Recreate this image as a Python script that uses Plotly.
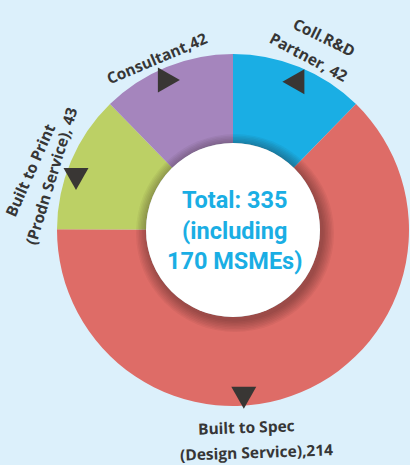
import math
import plotly.graph_objects as go

categories = ["Coll.R&D Partner", "Built to Spec (Design Service)", "Built to Print (Prodn Service)", "Consultant"]
values = [42, 214, 43, 42]
colors = ["#1aaee4", "#de6c67", "#bcd065", "#a585bd"]
center_lines = ["Total: 335", "(including", "170 MSMEs)"]

W, H = 410, 465
cx, cy, R, r_hole = 233, 230, 176, 87

fig = go.Figure()
fig.add_trace(go.Pie(
    labels=categories, values=values, sort=False, direction="clockwise", rotation=0,
    marker=dict(colors=colors, line=dict(width=0)), hole=r_hole / R,
    textinfo="none", hoverinfo="label+value", showlegend=False,
    domain=dict(x=[(cx - R) / W, (cx + R) / W], y=[1 - (cy + R) / H, 1 - (cy - R) / H]),
))
fig.add_trace(go.Scatter(x=[0], y=[0], mode="markers", marker=dict(opacity=0),
                         hoverinfo="skip", showlegend=False))

shapes = []
# soft shadow around the hole
for k in range(8, 0, -1):
    rr = r_hole + k * 1.5
    shapes.append(dict(type="circle", xref="x", yref="y", layer="above",
                       x0=cx + 2 - rr, x1=cx + 2 + rr, y0=cy + 3 - rr, y1=cy + 3 + rr,
                       fillcolor="rgba(40,20,20,0.05)", line=dict(width=0)))
shapes.append(dict(type="circle", xref="x", yref="y", layer="above",
                   x0=cx - r_hole, x1=cx + r_hole, y0=cy - r_hole, y1=cy + r_hole,
                   fillcolor="white", line=dict(width=0)))

# arrow markers placed from slice angles
total = sum(values)
cum = 0
arrow_style = {0: ("left", 0, 160), 1: ("down", 19, 168),
               2: ("down", -5, 165), 3: ("right", -1, 163)}
hw, hl = 12.5, 11  # half-width, half-length of triangle
for i, v in enumerate(values):
    mid = (cum + v / 2) / total * 360
    cum += v
    d, off, rr = arrow_style[i]
    th = math.radians(mid + off)
    x = cx + rr * math.sin(th)
    y = cy - rr * math.cos(th)
    if d == "left":
        pts = [(x - hl, y), (x + hl, y - hw), (x + hl, y + hw)]
    elif d == "right":
        pts = [(x + hl, y), (x - hl, y - hw), (x - hl, y + hw)]
    else:
        pts = [(x, y + hl), (x - hw, y - hl), (x + hw, y - hl)]
    path = "M " + " L ".join(f"{px:.1f},{py:.1f}" for px, py in pts) + " Z"
    shapes.append(dict(type="path", path=path, xref="x", yref="y", layer="above",
                       fillcolor="#393634", line=dict(width=0)))

font_lab = dict(family="Open Sans", size=15.5, color="#363636", weight="bold")
labels = [
    ("Coll.R&D", 324, 37, 26),
    ("Partner, 42", 309, 57, 28),
    ("Consultant,42", 157, 58, -23),
    ("Built to Print", 30, 170, -66),
    ("(Prodn Service), 43", 51, 176, -73),
    ("Built to Spec", 246, 427, -2),
    ("(Design Service),214", 256, 452, -2),
]
ann = []
for t, x, y, a in labels:
    ann.append(dict(text=t, x=x, y=y, xref="x", yref="y", showarrow=False, textangle=a,
                    font=font_lab, xanchor="center", yanchor="middle"))
ann.append(dict(text="<br>".join(center_lines), x=cx + 1, y=cy, xref="x", yref="y",
                showarrow=False, font=dict(family="Roboto", size=23.5, color="#1aaee4", weight="bold"),
                align="center", xanchor="center", yanchor="middle"))

fig.update_layout(
    width=W, height=H, margin=dict(l=0, r=0, t=0, b=0),
    paper_bgcolor="#dcf0fb", plot_bgcolor="rgba(0,0,0,0)",
    xaxis=dict(range=[0, W], visible=False, fixedrange=True),
    yaxis=dict(range=[H, 0], visible=False, fixedrange=True),
    shapes=shapes, annotations=ann,
)
fig.write_html("out.html")
